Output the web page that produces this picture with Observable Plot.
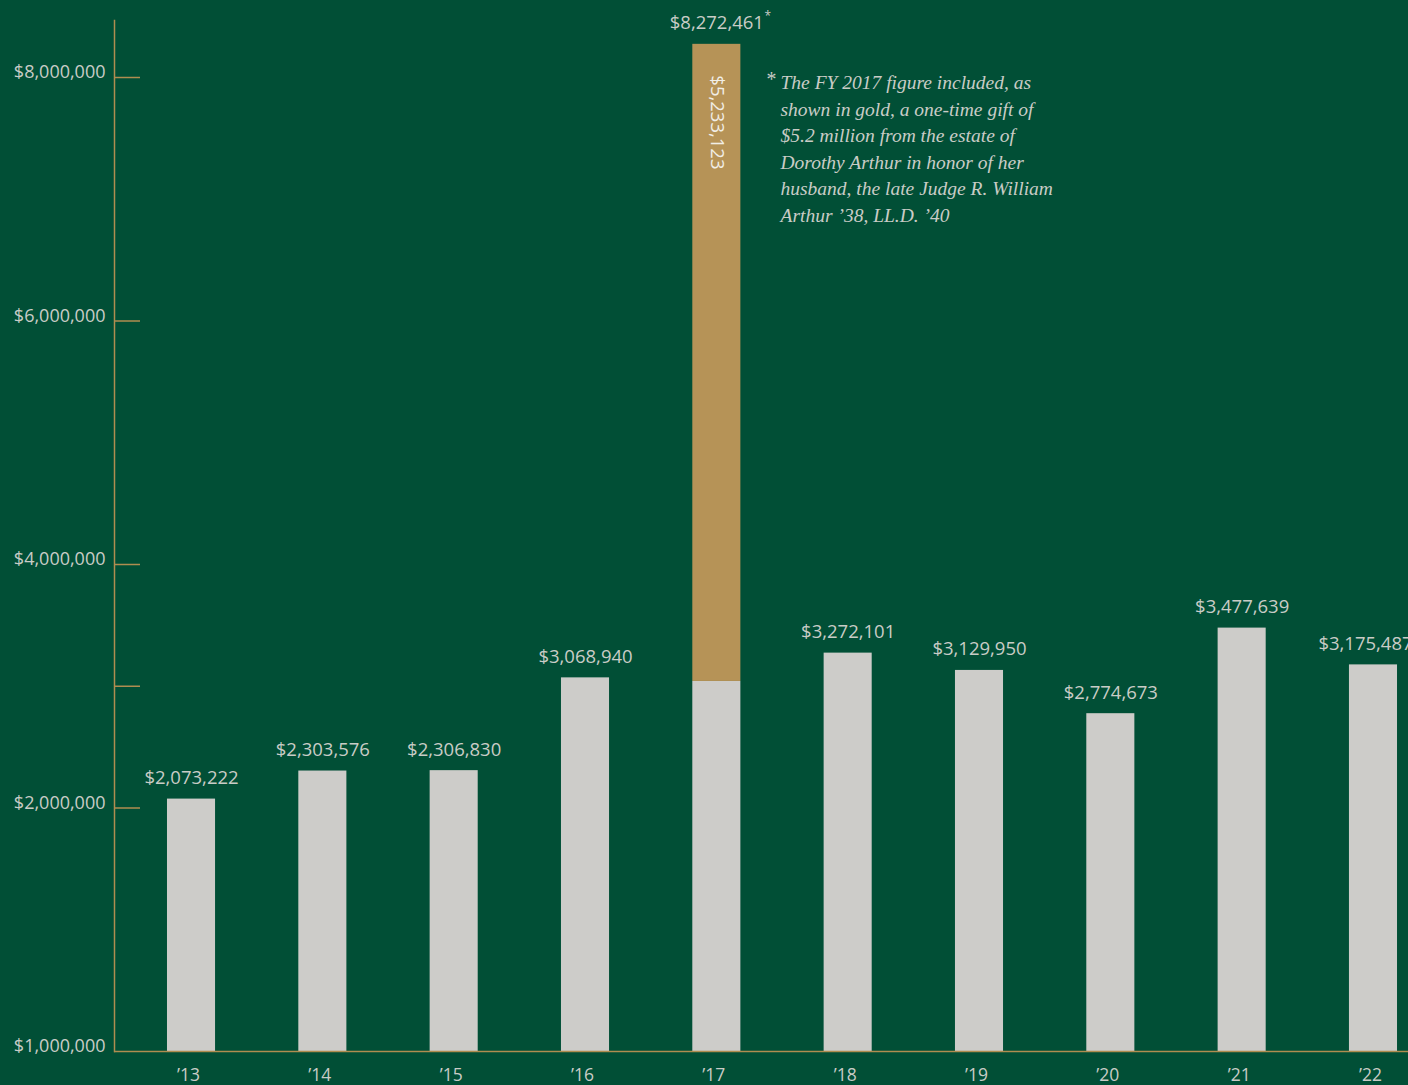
<!DOCTYPE html>
<html>
<head>
<meta charset="utf-8">
<script src="https://cdn.jsdelivr.net/npm/d3@7"></script>
<script src="https://cdn.jsdelivr.net/npm/@observablehq/plot@0.6"></script>
<style>
  html, body { margin: 0; padding: 0; background: #014f36; overflow: hidden; }
</style>
</head>
<body>
<div id="chart"></div>
<script>
const years = ["’13", "’14", "’15", "’16", "’17", "’18", "’19", "’20", "’21", "’22"];
const totals = [2073222, 2303576, 2306830, 3068940, 8272461, 3272101, 3129950, 2774673, 3477639, 3175487];
const gifts = [0, 0, 0, 0, 5233123, 0, 0, 0, 0, 0];
const yTickValues = [0, 2000000, 4000000, 6000000, 8000000];
const yTickLabels = ["$1,000,000", "$2,000,000", "$4,000,000", "$6,000,000", "$8,000,000"];
const yTickMarks = [2000000, 3000000, 4000000, 6000000, 8000000];
const footnoteMark = "*";
const footnote = "The FY 2017 figure included, as\nshown in gold, a one-time gift of\n$5.2 million from the estate of\nDorothy Arthur in honor of her\nhusband, the late Judge R. William\nArthur ’38, LL.D. ’40";

const data = years.map((year, i) => ({year, total: totals[i], gift: gifts[i], base: totals[i] - gifts[i]}));
const fmt = d => "$" + d3.format(",")(d);
const lastYear = years[years.length - 1];

const GREEN = "#014f36";
const GRAY = "#cdccc9";
const GOLD = "#b69357";
const AXIS = "#b08d50";
const TEXT = "#c9ccc6";
const SANS = "'Open Sans', Lato, sans-serif";
const SERIF = "'Liberation Serif', 'DejaVu Serif', serif";

const W = 1408, H = 1085;

const chart = Plot.plot({
  width: W,
  height: H,
  marginLeft: 114,
  marginRight: 0,
  marginTop: 20,
  marginBottom: 34,
  style: {background: GREEN, color: TEXT, fontFamily: SANS, overflow: "hidden"},
  x: {type: "band", domain: years, range: [125.35, 1438.65], paddingInner: 0.634, paddingOuter: 0.317, round: false, axis: null, label: null},
  y: {domain: [0, 8000000], range: [1051, 77], axis: null, label: null},
  marks: [
    Plot.barY(data, {x: "year", y1: 0, y2: "base", fill: GRAY}),
    Plot.barY(data.filter(d => d.gift > 0), {x: "year", y1: "base", y2: "total", fill: GOLD}),
    Plot.frame({anchor: "left", stroke: AXIS, strokeWidth: 1.5}),
    Plot.ruleY([0], {stroke: AXIS, strokeWidth: 1.5}),
    Plot.tickY(yTickMarks, {y: d => d, stroke: AXIS, strokeWidth: 1.5, insetRight: W - 140}),
    Plot.axisY({anchor: "left", ticks: yTickValues, tickFormat: d => yTickLabels[yTickValues.indexOf(d)],
      tickSize: 0, tickPadding: 9, dy: -5, fontSize: 18, fill: TEXT, fontFamily: SANS, label: null}),
    Plot.axisX({anchor: "bottom", tickSize: 0, tickPadding: 17, fontSize: 17.5, fill: TEXT, fontFamily: SANS, label: null, dx: -3}),
    Plot.text(data.filter(d => d.year !== lastYear), {x: "year", y: "total", text: d => fmt(d.total), dy: -21, fontSize: 18.5, fill: TEXT, fontFamily: SANS}),
    Plot.text(data.filter(d => d.year === lastYear), {x: "year", y: "total", text: d => fmt(d.total), dy: -21, dx: -8, fontSize: 18.5, fill: TEXT, fontFamily: SANS}),
    Plot.text(data.filter(d => d.gift > 0), {x: "year", y: "total", text: () => footnoteMark, dx: 51, dy: -28, fontSize: 12, fill: TEXT, fontFamily: SANS}),
    Plot.text(data.filter(d => d.gift > 0), {x: "year", y: "total", text: d => fmt(d.gift), rotate: 90,
      textAnchor: "start", dy: 31, fontSize: 18.5, fill: "#f1eee6", fontFamily: SANS}),
    Plot.text([footnoteMark], {frameAnchor: "top-left", text: d => d, dx: 651, dy: 51, lineAnchor: "top",
      textAnchor: "start", fontSize: 20, fontStyle: "italic", fill: TEXT, fontFamily: SERIF}),
    Plot.text([footnote], {frameAnchor: "top-left", text: d => d, dx: 666, dy: 50, lineAnchor: "top",
      textAnchor: "start", lineHeight: 1.36, fontSize: 19.5, fontStyle: "italic", fill: TEXT, fontFamily: SERIF})
  ]
});
document.getElementById("chart").appendChild(chart);
</script>
</body>
</html>
